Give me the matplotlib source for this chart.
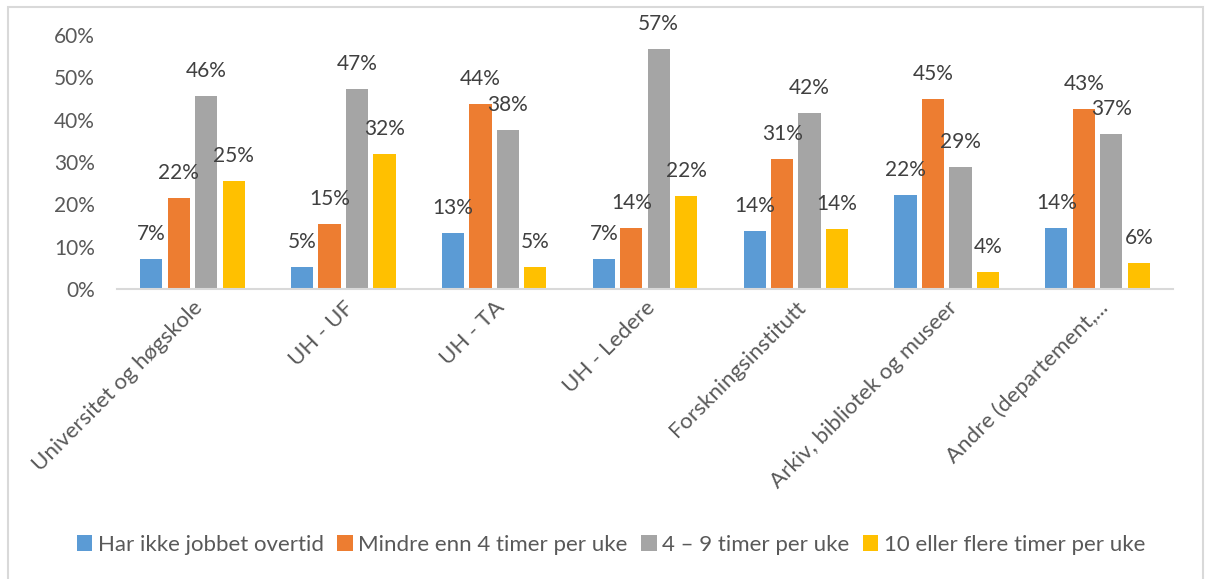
import numpy as np
import matplotlib.pyplot as plt
from matplotlib.patches import Rectangle

plt.rcParams['font.family'] = ['Lato', 'DejaVu Sans']

categories = ['Universitet og høgskole', 'UH - UF', 'UH - TA', 'UH - Ledere',
              'Forskningsinstitutt', 'Arkiv, bibliotek og museer',
              'Andre (departement,...']
series = ['Har ikke jobbet overtid', 'Mindre enn 4 timer per uke',
          '4 – 9 timer per uke', '10 eller flere timer per uke']
ikke_overtid = [0.072, 0.052, 0.132, 0.072, 0.137, 0.221, 0.144]
under_4 = [0.216, 0.154, 0.437, 0.143, 0.306, 0.448, 0.426]
fire_til_ni = [0.456, 0.472, 0.376, 0.566, 0.416, 0.288, 0.366]
ti_eller_flere = [0.254, 0.319, 0.052, 0.220, 0.142, 0.040, 0.061]
yticks = [0, 0.1, 0.2, 0.3, 0.4, 0.5, 0.6]

colors = ['#5B9BD5', '#ED7D31', '#A5A5A5', '#FFC000']
values = [ikke_overtid, under_4, fire_til_ni, ti_eller_flere]

fig = plt.figure(figsize=(12.06, 5.79), dpi=100)
W, H = 1206, 579

# ramme rundt diagrammet
fig.patches.append(Rectangle((8 / W, -0.05), (1203 - 8) / W, 1.05 - 7 / H,
                             transform=fig.transFigure, fill=False,
                             edgecolor='#D9D9D9', linewidth=1.5))

ax = fig.add_axes([117 / W, 1 - 289 / H, (1173 - 117) / W, (289 - 35) / H])
x = np.arange(len(categories))
step = 0.182
width = 0.147
for i, (name, vals, col) in enumerate(zip(series, values, colors)):
    pos = x + (i - 1.5) * step
    ax.bar(pos, vals, width, color=col, label=name)
    for p, v in zip(pos, vals):
        ax.annotate(f'{v:.0%}', (p, v), xytext=(0, 15), textcoords='offset pixels',
                    ha='center', va='bottom', fontsize=15, color='#404040')

ax.set_xlim(-0.5, len(categories) - 0.5)
ax.set_ylim(0, 0.6)
ax.set_yticks(yticks)
ax.set_yticklabels([f'{t:.0%}' for t in yticks], fontsize=15, color='#595959')
ax.set_xticks(x)
ax.set_xticklabels(categories, rotation=45, ha='right', va='top',
                   rotation_mode='anchor', fontsize=16, color='#595959')
ax.tick_params(axis='both', length=0)
ax.tick_params(axis='y', pad=16)
ax.tick_params(axis='x', pad=6)
for s in ['top', 'right', 'left']:
    ax.spines[s].set_visible(False)
ax.spines['bottom'].set_color('#D9D9D9')
ax.spines['bottom'].set_linewidth(1.5)

fig.legend(loc='center', bbox_to_anchor=(611 / W, 1 - 545 / H), ncol=4,
           frameon=False, fontsize=16, labelcolor='#595959',
           handlelength=0.7, handleheight=0.7, handletextpad=0.25,
           columnspacing=0.6)

fig.savefig('out.png', dpi=100)
